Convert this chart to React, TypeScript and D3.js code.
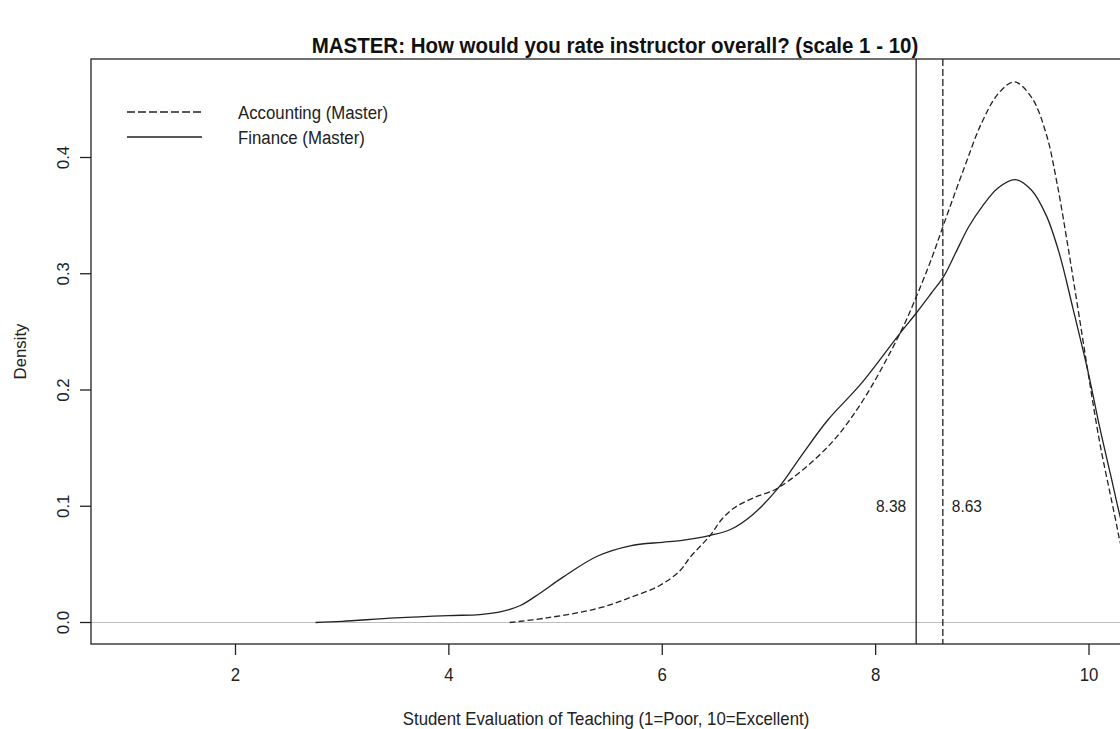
import React, { useEffect, useRef } from "react";
import * as d3 from "d3";

// density estimates
const financeX = [2.75, 3.0, 3.5, 4.0, 4.29, 4.5, 4.67, 4.85, 5.07, 5.39, 5.7, 6.0, 6.17, 6.45, 6.64, 6.85, 7.09, 7.3, 7.55, 7.86, 8.23, 8.38, 8.52, 8.64, 8.75, 8.87, 9.0, 9.15, 9.31, 9.46, 9.6, 9.72, 9.85, 10.0, 10.1, 10.2, 10.3, 10.4, 10.6];
const financeY = [0.0, 0.001, 0.004, 0.006, 0.0068, 0.0095, 0.0146, 0.025, 0.039, 0.057, 0.066, 0.069, 0.0705, 0.075, 0.08, 0.093, 0.116, 0.143, 0.174, 0.205, 0.249, 0.266, 0.283, 0.298, 0.318, 0.34, 0.358, 0.374, 0.381, 0.372, 0.35, 0.318, 0.27, 0.212, 0.168, 0.128, 0.088, 0.055, 0.018];

const accountingX = [4.57, 4.92, 5.39, 5.7, 5.98, 6.17, 6.26, 6.45, 6.56, 6.68, 6.85, 7.09, 7.55, 7.86, 8.23, 8.38, 8.52, 8.64, 8.83, 8.99, 9.15, 9.3, 9.46, 9.6, 9.7, 9.8, 9.9, 10.0, 10.1, 10.2, 10.25, 10.3, 10.4, 10.6];
const accountingY = [0.0, 0.004, 0.012, 0.0215, 0.032, 0.045, 0.056, 0.075, 0.089, 0.099, 0.107, 0.116, 0.151, 0.188, 0.249, 0.28, 0.312, 0.343, 0.391, 0.429, 0.455, 0.465, 0.452, 0.42, 0.378, 0.325, 0.268, 0.21, 0.155, 0.11, 0.088, 0.066, 0.035, 0.008];

const meanFinance = 8.38;
const meanAccounting = 8.63;

const xTicks = [2, 4, 6, 8, 10];
const yTicks = [0.0, 0.1, 0.2, 0.3, 0.4];

const legendLabels = ["Accounting (Master)", "Finance (Master)"];

const titleText = "MASTER: How would you rate instructor overall? (scale 1 - 10)";
const xLabel = "Student Evaluation of Teaching (1=Poor, 10=Excellent)";
const yLabel = "Density";

export default function App() {
  const svgRef = useRef<SVGSVGElement>(null);

  useEffect(() => {
    const width = 1120;
    const height = 729;
    const box = { left: 91, right: 1127, top: 59, bottom: 644 };
    const font = "'Liberation Sans', Arial, sans-serif";
    const ink = "#222";
    const stretch = 1.1; // text in the reference is a bit tall

    const svg = d3.select(svgRef.current);
    svg.selectAll("*").remove();
    svg.attr("width", width).attr("height", height);

    const xScale = d3.scaleLinear().domain([2, 10]).range([235.5, 1089]);
    const yScale = d3.scaleLinear().domain([0, 0.4]).range([622.5, 157.5]);

    const label = (x: number, y: number, txt: string, size: number, anchor = "middle") =>
      svg.append("text")
        .attr("transform", `translate(${x},${y}) scale(1,${stretch})`)
        .attr("text-anchor", anchor)
        .style("font-family", font).style("font-size", `${size}px`).attr("fill", "#222")
        .text(txt);

    svg.append("rect").attr("width", width).attr("height", height).attr("fill", "#fff");

    svg.append("defs").append("clipPath").attr("id", "plotclip")
      .append("rect")
      .attr("x", box.left).attr("y", box.top)
      .attr("width", box.right - box.left).attr("height", box.bottom - box.top);

    const plot = svg.append("g").attr("clip-path", "url(#plotclip)");

    // zero reference line
    plot.append("line")
      .attr("x1", box.left).attr("x2", box.right)
      .attr("y1", yScale(0)).attr("y2", yScale(0))
      .attr("stroke", "#bebebe").attr("stroke-width", 1.2);

    const line = d3.line<[number, number]>()
      .x(d => xScale(d[0]))
      .y(d => yScale(d[1]))
      .curve(d3.curveCatmullRom.alpha(0.5));

    const accPts = accountingX.map((x, i) => [x, accountingY[i]] as [number, number]);
    const finPts = financeX.map((x, i) => [x, financeY[i]] as [number, number]);

    plot.append("path")
      .attr("d", line(accPts))
      .attr("fill", "none").attr("stroke", ink).attr("stroke-width", 1.3)
      .attr("stroke-dasharray", "6,3");

    plot.append("path")
      .attr("d", line(finPts))
      .attr("fill", "none").attr("stroke", ink).attr("stroke-width", 1.3);

    // mean lines
    plot.append("line")
      .attr("x1", xScale(meanFinance)).attr("x2", xScale(meanFinance))
      .attr("y1", box.top).attr("y2", box.bottom)
      .attr("stroke", ink).attr("stroke-width", 1.3);
    plot.append("line")
      .attr("x1", xScale(meanAccounting)).attr("x2", xScale(meanAccounting))
      .attr("y1", box.top).attr("y2", box.bottom)
      .attr("stroke", ink).attr("stroke-width", 1.3)
      .attr("stroke-dasharray", "7,3");

    label(xScale(meanFinance) - 10, yScale(0.1) + 5.5, meanFinance.toFixed(2), 15.5, "end");
    label(xScale(meanAccounting) + 9, yScale(0.1) + 5.5, meanAccounting.toFixed(2), 15.5, "start");

    // box
    svg.append("rect")
      .attr("x", box.left).attr("y", box.top)
      .attr("width", box.right - box.left).attr("height", box.bottom - box.top)
      .attr("fill", "none").attr("stroke", ink).attr("stroke-width", 1.3);

    // x axis
    svg.append("g").selectAll("line").data(xTicks).enter().append("line")
      .attr("x1", d => xScale(d)).attr("x2", d => xScale(d))
      .attr("y1", box.bottom).attr("y2", box.bottom + 11)
      .attr("stroke", ink).attr("stroke-width", 1.3);
    xTicks.forEach(d => label(xScale(d), 680.5, String(d), 16.8));

    // y axis
    const yAxis = svg.append("g");
    yAxis.selectAll("line").data(yTicks).enter().append("line")
      .attr("x1", box.left - 11).attr("x2", box.left)
      .attr("y1", d => yScale(d)).attr("y2", d => yScale(d))
      .attr("stroke", ink).attr("stroke-width", 1.3);
    yAxis.selectAll("text").data(yTicks).enter().append("text")
      .attr("transform", d => `translate(69,${yScale(d)}) rotate(-90)`)
      .attr("text-anchor", "middle")
      .style("font-family", font).style("font-size", "16.8px").attr("fill", "#222")
      .text(d => d.toFixed(1));

    svg.append("text")
      .attr("transform", `translate(26,${(box.top + box.bottom) / 2}) rotate(-90)`)
      .attr("text-anchor", "middle")
      .style("font-family", font).style("font-size", "16.8px").attr("fill", "#222")
      .text(yLabel);

    label(606, 724.5, xLabel, 16.8);

    svg.append("text")
      .attr("transform", `translate(615,53) scale(1,${stretch})`)
      .attr("text-anchor", "middle")
      .style("font-family", font).style("font-size", "20.5px").style("font-weight", "bold").attr("fill", "#111")
      .text(titleText);

    // legend
    const legendItems = svg.append("g").selectAll("g").data(legendLabels).enter().append("g")
      .attr("transform", (d, i) => `translate(0,${112 + i * 25})`);
    legendItems.append("line")
      .attr("x1", 127).attr("x2", 202).attr("y1", 0).attr("y2", 0)
      .attr("stroke", ink).attr("stroke-width", 1.3)
      .attr("stroke-dasharray", (d, i) => (i === 0 ? "8,3" : null));
    legendItems.append("text")
      .attr("transform", `translate(238,6.5) scale(1,${stretch})`)
      .style("font-family", font).style("font-size", "16.8px").attr("fill", "#222")
      .text(d => d);
  }, []);

  return (
    <div style={{ position: "fixed", left: 0, top: 0 }}>
      <svg ref={svgRef} style={{ display: "block" }}></svg>
    </div>
  );
}
